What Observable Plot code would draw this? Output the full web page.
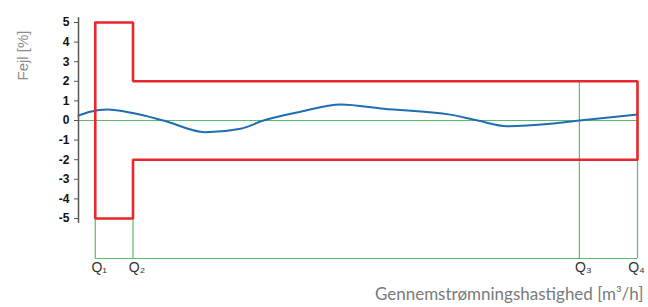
<!DOCTYPE html>
<html><head><meta charset="utf-8">
<script src="https://cdn.jsdelivr.net/npm/d3@7"></script>
<script src="https://cdn.jsdelivr.net/npm/@observablehq/plot@0.6"></script>
<style>body{margin:0;background:#fff;}</style>
</head><body><div id="chart"></div>
<script>
// Flow thresholds (relative flow units, axis at 0)
const qNames = ["Q₁", "Q₂", "Q₃", "Q₄"];
const qValues = [3.0, 9.75, 89.6, 100];
// Maximum permissible error limits [%]
const mpeLow = 5;   // between Q1 and Q2
const mpeHigh = 2;  // between Q2 and Q4
const yTicks = [-5, -4, -3, -2, -1, 0, 1, 2, 3, 4, 5];
// Measured error curve
const curveX = [0, 2.1, 5.2, 9.7, 15.2, 22.7, 29, 33.1, 39.7, 46.9, 54.6, 66.5, 71.4, 76.7, 84.4, 89.6, 100];
const curveY = [0.25, 0.45, 0.56, 0.38, 0.0, -0.6, -0.42, 0.0, 0.45, 0.82, 0.6, 0.3, 0.0, -0.29, -0.17, 0.0, 0.3];
const baseY = -7.04; // bottom guide line level

const [Q1, Q2, Q3, Q4] = qValues;
const band = [
  [Q1, mpeLow], [Q2, mpeLow], [Q2, mpeHigh], [Q4, mpeHigh], [Q4, -mpeHigh],
  [Q2, -mpeHigh], [Q2, -mpeLow], [Q1, -mpeLow], [Q1, mpeLow]
].map(([x, y]) => ({x, y}));
const curve = curveX.map((x, i) => ({x, y: curveY[i]}));
const qs = qNames.map((name, i) => ({name, x: qValues[i], top: i < 2 ? -mpeLow : mpeHigh}));

const green = "#5dbb6c";
const chart = Plot.plot({
  width: 648, height: 307,
  marginLeft: 78, marginRight: 11, marginTop: 22, marginBottom: 89,
  x: {domain: [0, 100], axis: null},
  y: {domain: [-5, 5], axis: null},
  style: {fontFamily: "Liberation Sans, Arial, sans-serif", background: "#fff"},
  marks: [
    Plot.ruleY([0], {x1: 0, x2: Q4, stroke: green, strokeWidth: 1.2}),
    Plot.ruleY([baseY], {x1: Q1, x2: Q4, stroke: green, strokeWidth: 1.2}),
    Plot.ruleX(qs, {x: "x", y1: baseY, y2: "top", stroke: green, strokeWidth: 1.2}),
    Plot.line(curve, {x: "x", y: "y", curve: "monotone-x", stroke: "#1f6db3", strokeWidth: 2}),
    Plot.line(band, {x: "x", y: "y", stroke: "#e8262b", strokeWidth: 2.6, strokeLinejoin: "miter"}),
    Plot.ruleX([0], {y1: -5.25, y2: 5.25, stroke: "#555", strokeWidth: 1.5}),
    Plot.axisY({ticks: yTicks, tickFormat: d => String(d), tickSize: 4, tickPadding: 5,
      stroke: "#555", fontWeight: "bold", fontSize: 12, fill: "#111"}),
    Plot.text(qs.slice(0, 3), {x: "x", text: "name", frameAnchor: "bottom", dy: 53, dx: 4,
      fontSize: 14, fill: "#333"}),
    Plot.text(qs.slice(3), {x: "x", text: "name", frameAnchor: "bottom", dy: 53, dx: -1,
      fontSize: 14, fill: "#333"}),
    Plot.text(["Fejl [%]"], {frameAnchor: "top-left", dx: -61, dy: 33, rotate: -90,
      textAnchor: "middle", fontSize: 15, fill: "#8a8a8a"}),
    Plot.text(["Gennemstrømningshastighed [m³/h]"], {frameAnchor: "bottom-right", dx: 6, dy: 81,
      textAnchor: "end", fontSize: 17, fill: "#7a7a7a", fontFamily: "Lato, sans-serif"})
  ]
});
document.getElementById("chart").append(chart);
</script></body></html>
